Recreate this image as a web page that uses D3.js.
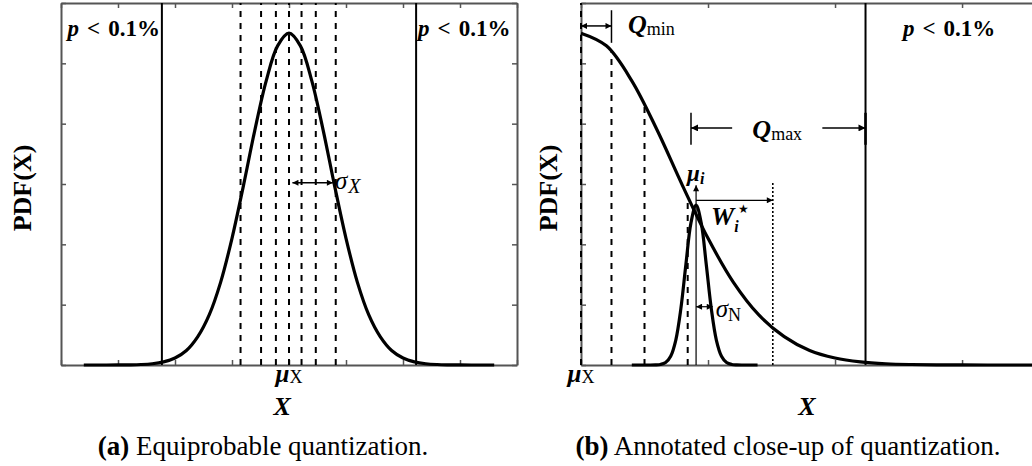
<!DOCTYPE html>
<html lang="en">
<head>
<meta charset="UTF-8"/>
<title>Quantization of X</title>
<script src="https://d3js.org/d3.v7.min.js"></script>
<style>
  body { margin: 0; background: #fff; }
  text { font-family: "Liberation Serif", "DejaVu Serif", serif; fill: #000; }
</style>
</head>
<body>
<script>
var w = 1032;
var h = 466;

// pdf of X; panel (b) shows the right half of it
var pdfX = [-3.6, -3.4, -3.2, -3.0, -2.8, -2.6, -2.4, -2.2, -2.0, -1.8, -1.6, -1.4, -1.2, -1.0, -0.8, -0.6, -0.4, -0.2,
            0, 0.2, 0.4, 0.6, 0.8, 1.0, 1.2, 1.4, 1.6, 1.8, 2.0, 2.2, 2.4, 2.6, 2.8, 3.0, 3.2, 3.4, 3.6];
var pdfY = [0, 0, 0, 0.001, 0.003, 0.008, 0.021, 0.052, 0.116, 0.24, 0.47, 0.83, 1.37, 2.10, 2.97, 3.89, 4.71, 5.29,
            5.5, 5.29, 4.71, 3.89, 2.97, 2.10, 1.37, 0.83, 0.47, 0.24, 0.116, 0.052, 0.021, 0.008, 0.003, 0.001, 0, 0, 0];

// narrow noise pdf around mu_i (panel b)
var noiseX = [0.40, 0.50, 0.586, 0.626, 0.666, 0.706, 0.746, 0.786, 0.826, 0.866, 0.906,
              0.946, 0.986, 1.026, 1.066, 1.106, 1.146, 1.186, 1.226, 1.31, 1.39];
var noiseY = [0, 0, 0.001, 0.009, 0.041, 0.146, 0.41, 0.93, 1.67, 2.36, 2.65,
              2.36, 1.67, 0.93, 0.41, 0.146, 0.041, 0.009, 0.001, 0, 0];

var leftBounds = [-2.23, 2.23];
var leftLevels = [-0.85, -0.49, -0.23, 0, 0.22, 0.47, 0.82];
var rightBound = 2.24;
var rightLevels = [0, 0.24, 0.50, 0.84];
var rightLevelTops = [6, 5.2, 4.32, 2.79];
var muI = 0.906, muITop = 2.98;
var wEnd = 1.51, wLevel = 2.73, wTop = 3.03;
var sigmaX = [0.06, 0.77], sigmaXLevel = 3.02;
var sigmaN = [0.906, 1.037], sigmaNLevel = 0.966;
var qMin = [0, 0.24], qMinLevel = 5.62, qMinBar = [5.34, 5.88];
var qMax = [0.866, 1.19, 1.90, 2.24], qMaxLevel = 3.93, qMaxBar = [3.65, 4.18];

var leftTicks = [-4, -3, -2, -1, 0, 1, 2, 3, 4];
var rightTicks = [0, 1, 2, 3];
var yTicks = [0, 1, 2, 3, 4, 5, 6];

var plotTop = 3, plotBottom = 365;

var xL = d3.scaleLinear().domain([-4, 4]).range([61, 517]);
var xR = d3.scaleLinear().domain([0, 3.59]).range([581, 1037]);
var y = d3.scaleLinear().domain([0, 6]).range([plotBottom, plotTop]);

var svg = d3.select("body").append("svg")
            .attr("width", w)
            .attr("height", h);

var defs = svg.append("defs");
defs.append("marker")
    .attr("id", "head")
    .attr("viewBox", "0 0 10 10")
    .attr("refX", 10).attr("refY", 5)
    .attr("markerWidth", 9).attr("markerHeight", 7)
    .attr("markerUnits", "userSpaceOnUse")
    .attr("orient", "auto-start-reverse")
    .append("path").attr("d", "M0,0 L10,5 L0,10 z").attr("fill", "#000");
defs.append("marker")
    .attr("id", "small")
    .attr("viewBox", "0 0 10 10")
    .attr("refX", 10).attr("refY", 5)
    .attr("markerWidth", 7).attr("markerHeight", 6)
    .attr("markerUnits", "userSpaceOnUse")
    .attr("orient", "auto-start-reverse")
    .append("path").attr("d", "M0,0 L10,5 L0,10 z").attr("fill", "#000");

function frame(x, ticks) {
    var r = x.range();
    var g = svg.append("g");
    g.append("g").attr("transform", "translate(0," + plotBottom + ")")
     .call(d3.axisBottom(x).tickValues(ticks).tickSize(-5).tickSizeOuter(0).tickFormat(""));
    g.append("g").attr("transform", "translate(0," + plotTop + ")")
     .call(d3.axisTop(x).tickValues(ticks).tickSize(-5).tickSizeOuter(0).tickFormat(""));
    g.append("g").attr("transform", "translate(" + r[0] + ",0)")
     .call(d3.axisLeft(y).tickValues(yTicks).tickSize(-5).tickSizeOuter(0).tickFormat(""));
    g.append("g").attr("transform", "translate(" + r[1] + ",0)")
     .call(d3.axisRight(y).tickValues(yTicks).tickSize(-5).tickSizeOuter(0).tickFormat(""));
    g.selectAll("path.domain").attr("stroke", "#555").attr("stroke-width", 2);
    g.selectAll(".tick line").attr("stroke", "#555").attr("stroke-width", 1.5);
    return g;
}

function vline(x, xv, y0, y1, width, dash) {
    var l = svg.append("line")
       .attr("x1", x(xv)).attr("x2", x(xv))
       .attr("y1", y(y0)).attr("y2", y(y1))
       .attr("stroke", "#000").attr("stroke-width", width);
    if (dash) l.attr("stroke-dasharray", dash);
    return l;
}

function arrow(x, a, b, level, width, mk, startHead, endHead) {
    var l = svg.append("line")
       .attr("x1", x(a)).attr("x2", x(b))
       .attr("y1", y(level)).attr("y2", y(level))
       .attr("stroke", "#000").attr("stroke-width", width);
    if (startHead) l.attr("marker-start", "url(#" + mk + ")");
    if (endHead) l.attr("marker-end", "url(#" + mk + ")");
    return l;
}

// parts: [text, style, size, dy, dx]
function label(x, yy, anchor, size, parts, rotate) {
    var t = svg.append("text")
        .attr("x", x).attr("y", yy)
        .attr("text-anchor", anchor)
        .attr("font-size", size);
    if (rotate) t.attr("transform", "rotate(-90," + x + "," + yy + ")");
    parts.forEach(function(p) {
        var s = t.append("tspan").text(p[0]);
        if (p[1].indexOf("b") >= 0) s.attr("font-weight", "bold");
        if (p[1].indexOf("i") >= 0) s.attr("font-style", "italic");
        if (p[2]) s.attr("font-size", p[2]);
        if (p[3]) s.attr("dy", p[3]);
        if (p[4]) s.attr("dx", p[4]);
    });
    return t;
}

var pLabel = [["p", "bi"], ["<", "b", null, null, 8], ["0.1%", "b", null, null, 8]];

var line = d3.line().curve(d3.curveCatmullRom);

// ---------- panel (a) ----------
frame(xL, leftTicks);

leftLevels.forEach(function(v) { vline(xL, v, 0, 6, 2, "6,6"); });
leftBounds.forEach(function(v) { vline(xL, v, 0, 6, 2); });

svg.append("path")
   .datum(pdfX.map(function(d, i) { return [xL(d), y(pdfY[i])]; }))
   .attr("d", line)
   .attr("fill", "none").attr("stroke", "#000").attr("stroke-width", 3.2);

arrow(xL, sigmaX[0], sigmaX[1], sigmaXLevel, 1.5, "small", true, true);

label(xL(leftBounds[0]) - 2, 36, "end", 23, pLabel);
label(xL(leftBounds[1]) + 2, 36, "start", 23, pLabel);
label(xL(sigmaX[1]) + 2, 189, "start", 25, [["σ", "i"], ["X", "i", 20, 4, 1]]);
label(xL(0), 382, "middle", 25, [["μ", "bi"], ["X", "", 18, 1]]);
label(xL(-0.12), 415, "middle", 26, [["X", "bi"]]);
label(31, 188, "middle", 26, [["PDF(X)", "b"]], true);
label(263, 455, "middle", 27, [["(a)", "b"], [" Equiprobable quantization.", ""]]);

// ---------- panel (b) ----------
frame(xR, rightTicks);

rightLevels.forEach(function(v, i) { vline(xR, v, 0, rightLevelTops[i], 2, "6,6"); });
vline(xR, rightBound, 0, 6, 2);
vline(xR, wEnd, 0, wTop, 1.6, "2,2");
vline(xR, muI, 0, muITop, 1.2).attr("marker-end", "url(#small)");

svg.append("path")
   .datum(pdfX.filter(function(d) { return d >= 0; })
              .map(function(d) { return [xR(d), y(pdfY[pdfX.indexOf(d)])]; }))
   .attr("d", line)
   .attr("fill", "none").attr("stroke", "#000").attr("stroke-width", 3.2);

svg.append("path")
   .datum(noiseX.map(function(d, i) { return [xR(d), y(noiseY[i])]; }))
   .attr("d", line)
   .attr("fill", "none").attr("stroke", "#000").attr("stroke-width", 3.2);

// Q_min
vline(xR, qMin[1], qMinBar[0], qMinBar[1], 1.5);
arrow(xR, qMin[0], qMin[1], qMinLevel, 1.5, "small", true, true);
// Q_max
vline(xR, qMax[0], qMaxBar[0], qMaxBar[1], 1.5);
vline(xR, qMax[3], qMaxBar[0], qMaxBar[1], 2.5);
arrow(xR, qMax[1], qMax[0], qMaxLevel, 1.5, "head", false, true);
arrow(xR, qMax[2], qMax[3], qMaxLevel, 1.5, "head", false, true);
// W_i and sigma_N
arrow(xR, muI, wEnd, wLevel, 1.2, "small", false, true);
arrow(xR, sigmaN[0], sigmaN[1], sigmaNLevel, 1.2, "small", true, true);

label(628, 33, "start", 26, [["Q", "bi"], ["min", "", 18, 2]]);
label(xR((qMax[1] + qMax[2]) / 2), 138, "middle", 26, [["Q", "bi"], ["max", "", 18, 2]]);
label(903, 36, "start", 23, pLabel);
label(xR(muI) - 9, 181, "start", 23, [["μ", "bi"], ["i", "bi", 16, 3]]);
label(xR(muI) + 15, 225, "start", 26, [["W", "bi"], ["i", "bi", 16, 7], ["★", "", 12, -19, -1]]);
label(xR(sigmaN[1]) + 3, 317, "start", 25, [["σ", "i"], ["N", "", 18, 4]]);
label(xR(0), 382, "middle", 25, [["μ", "bi"], ["X", "", 18, 1]]);
label(807, 415, "middle", 26, [["X", "bi"]]);
label(557, 188, "middle", 26, [["PDF(X)", "b"]], true);
label(788, 455, "middle", 27, [["(b)", "b"], [" Annotated close-up of quantization.", ""]]);
</script>
</body>
</html>
